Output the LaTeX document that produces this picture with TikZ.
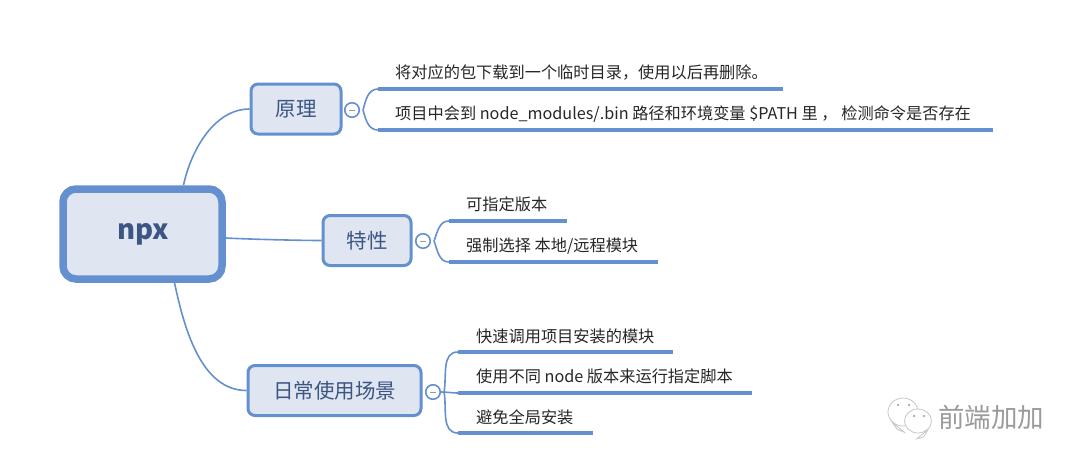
\documentclass[tikz,border=0pt]{standalone}
\usepackage{fontspec}
\setmainfont{Noto Sans CJK SC}
\usetikzlibrary{shapes,positioning}
\definecolor{mapblue}{HTML}{6590D0}
\definecolor{mapfill}{HTML}{DFE6F2}
\definecolor{maptext}{HTML}{3C5583}
\definecolor{marktext}{HTML}{9A9A9A}
\tikzset{
	rootbox/.style={rectangle, rounded corners=13pt, draw=mapblue, line width=7.5pt, fill=mapfill, minimum width=159pt, minimum height=90pt, text=maptext, font=\fontsize{27.5}{30}\selectfont\bfseries},
	topicbox/.style={rectangle, rounded corners=7pt, draw=mapblue, line width=3pt, fill=mapfill, minimum height=50pt, text=maptext, font=\fontsize{20.5}{24}\selectfont},
	foldmark/.style={circle, draw=mapblue, line width=1.6pt, fill=white, minimum size=14.5pt, inner sep=0pt},
	leaftext/.style={anchor=west, inner sep=0pt, text=black!85, font=\fontsize{16.2}{18}\selectfont},
	trunk/.style={draw=mapblue, line width=1.6pt},
	twig/.style={draw=mapblue, line width=1.6pt},
	bar/.style={draw=mapblue, line width=4.5pt},
	minus/.style={draw=marktext, line width=1pt},
	bubble/.style={ellipse, draw=black!22, line width=0.8pt, fill=white},
	eye/.style={circle, fill=black!35, minimum size=2.5pt, inner sep=0pt},
}
\begin{document}
\begin{tikzpicture}[x=1pt, y=-1pt]
	\useasboundingbox (0,0) rectangle (1080,464);
	% main boxes
	\node [rootbox] (npx) at (142.5,234) {\raisebox{-5pt}{\hspace{1.5pt}npx}};
	\node [topicbox, minimum width=90pt] (yuanli) at (296,109) {原理};
	\node [topicbox, minimum width=88pt] (texing) at (367,240.5) {特性};
	\node [topicbox, minimum width=173pt] (richang) at (334.5,390.5) {日常使用场景};
	% fold marks
	\node [foldmark] (foldA) at (352,110) {};
	\node [foldmark] (foldB) at (423,241) {};
	\node [foldmark] (foldC) at (433,392) {};
	\draw [minus] ([xshift=-3pt]foldA.center) -- ([xshift=3pt]foldA.center);
	\draw [minus] ([xshift=-3pt]foldB.center) -- ([xshift=3pt]foldB.center);
	\draw [minus] ([xshift=-3pt]foldC.center) -- ([xshift=3pt]foldC.center);
	% leaf texts
	\node [leaftext] (textA) at (395,72) {将对应的包下载到一个临时目录，使用以后再删除。};
	\node [leaftext] (textB) at (395,114) {项目中会到 node\_modules/.bin 路径和环境变量 \$PATH 里 ， 检测命令是否存在};
	\node [leaftext] (textC) at (466,204) {可指定版本};
	\node [leaftext] (textD) at (466,246) {强制选择 本地/远程模块};
	\node [leaftext] (textE) at (476,336) {快速调用项目安装的模块};
	\node [leaftext] (textF) at (476,376) {使用不同 node 版本来运行指定脚本};
	\node [leaftext] (textG) at (476,417) {避免全局安装};
	% bars under the texts
	\coordinate (barA) at (378,89);
	\coordinate (barAend) at (783,89);
	\coordinate (barB) at (378,130);
	\coordinate (barBend) at (993,130);
	\coordinate (barC) at (449,221);
	\coordinate (barCend) at (567,221);
	\coordinate (barD) at (449,262);
	\coordinate (barDend) at (658,262);
	\coordinate (barE) at (458,352);
	\coordinate (barEend) at (673,352);
	\coordinate (barF) at (458,393);
	\coordinate (barFend) at (752,393);
	\coordinate (barG) at (458,433);
	\coordinate (barGend) at (593,433);
	\draw [bar] (barA) -- (barAend);
	\draw [bar] (barB) -- (barBend);
	\draw [bar] (barC) -- (barCend);
	\draw [bar] (barD) -- (barDend);
	\draw [bar] (barE) -- (barEend);
	\draw [bar] (barF) -- (barFend);
	\draw [bar] (barG) -- (barGend);
	% connectors
	\path [trunk] ([xshift=41pt]npx.north) edge [out=78, in=180, looseness=0.9] (yuanli.west);
	\path [trunk] ([yshift=-4pt]npx.east) edge [out=-3, in=180, looseness=0.6] (texing.west);
	\path [trunk] ([xshift=32pt]npx.south) edge [out=-78, in=180, looseness=0.9] (richang.west);
	\path [twig] ([xshift=3pt]foldA.east) edge [out=75, in=180] (barA);
	\path [twig] ([xshift=3pt]foldA.east) edge [out=-75, in=180] (barB);
	\path [twig] ([xshift=3pt]foldB.east) edge [out=70, in=180] (barC);
	\path [twig] ([xshift=3pt]foldB.east) edge [out=-70, in=180] (barD);
	\path [twig] ([xshift=3pt]foldC.east) edge [out=80, in=180] (barE);
	\path [twig] (foldC.east) edge [out=0, in=180] (barF);
	\path [twig] ([xshift=3pt]foldC.east) edge [out=-80, in=180] (barG);
	% watermark
	\node [bubble, minimum width=30pt, minimum height=28pt, inner sep=0pt] (wechatA) at (903,412) {};
	\draw [draw=black!22, line width=0.8pt, fill=white] (wechatA.south west) -- ++(5pt,-7pt) -- ++(7pt,-3pt) -- cycle;
	\node [eye] (eyeA) at (898,405) {};
	\node [eye] (eyeB) at (909,405) {};
	\node [bubble, minimum width=27pt, minimum height=24pt, inner sep=0pt] (wechatB) at (918,421) {};
	\draw [draw=black!22, line width=0.8pt, fill=white] (wechatB.south east) -- ++(-4pt,-7pt) -- ++(-7pt,-2pt) -- cycle;
	\node [eye] (eyeC) at (914,416) {};
	\node [eye] (eyeD) at (924,416) {};
	\node [anchor=west, inner sep=0pt, text=marktext, font=\fontsize{26.5}{28}\selectfont] (mark) at (938,417) {前端加加};
\end{tikzpicture}
\end{document}
